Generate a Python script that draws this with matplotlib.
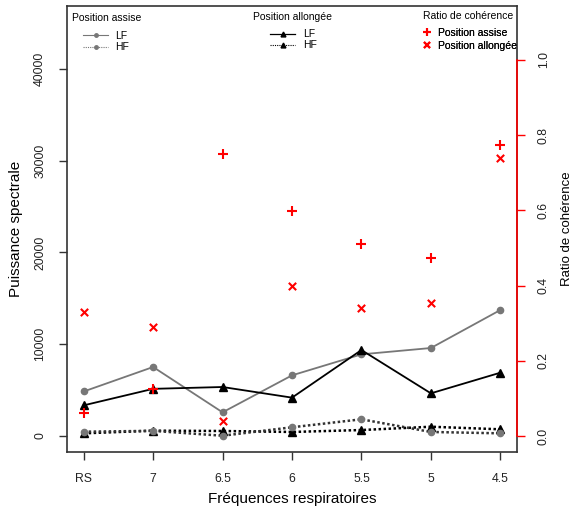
import matplotlib.pyplot as plt
from matplotlib.lines import Line2D
import numpy as np

plt.rcParams["font.family"] = ["Liberation Sans", "DejaVu Sans"]

freq_labels = ["RS", "7", "6.5", "6", "5.5", "5", "4.5"]
lf_assise = [4850, 7520, 2580, 6610, 8900, 9590, 13730]
hf_assise = [470, 560, 30, 950, 1820, 440, 290]
lf_allongee = [3340, 5140, 5340, 4180, 9370, 4650, 6900]
hf_allongee = [290, 580, 545, 440, 650, 1010, 730]
coh_assise = [0.060, 0.126, 0.749, 0.599, 0.511, 0.473, 0.774]
coh_allongee = [0.330, 0.291, 0.041, 0.400, 0.340, 0.354, 0.740]

x = np.arange(1, len(freq_labels) + 1)
GRAY = "#777777"
RED = "#ff0000"

fig = plt.figure(figsize=(5.75, 5.16), dpi=100)
ax = fig.add_axes([67/575, 1 - 452/516, 450/575, 446/516])

# spectral power
ax.plot(x, lf_assise, color=GRAY, lw=1.3, marker="o", ms=4.5, mfc=GRAY, mec=GRAY, zorder=3)
ax.plot(x, lf_allongee, color="black", lw=1.3, marker="^", ms=5.5, zorder=3)
ax.plot(x, hf_allongee, color="black", lw=1.8, ls=(0, (1, 1)), marker="^", ms=5.5, zorder=3)
ax.plot(x, hf_assise, color="#333333", lw=1.8, ls=(0, (1, 1)), marker="o", ms=4.5,
        mfc=GRAY, mec=GRAY, zorder=3)

ax.set_xlim(0.76, 7.24)
ax.set_ylim(-1744, 46866)
ax.set_xticks(x)
ax.set_xticklabels(freq_labels)
ax.set_yticks([0, 10000, 20000, 30000, 40000])
ax.set_yticklabels(["0", "10000", "20000", "30000", "40000"], rotation=90, va="center")
ax.tick_params(axis="both", direction="out", length=6, width=1, labelsize=8.8, pad=9,
               color="#333333", labelcolor="#222222")
for s in ax.spines.values():
    s.set_color("#333333")
    s.set_linewidth(1.2)
ax.set_xlabel("Fréquences respiratoires", fontsize=11, labelpad=5)
ax.set_ylabel("Puissance spectrale", fontsize=11, labelpad=8)

# coherence ratio
ax2 = ax.twinx()
ax2.scatter(x, coh_assise, marker="+", s=55, color=RED, linewidths=1.5, zorder=4)
ax2.scatter(x, coh_allongee, marker="x", s=28, color=RED, linewidths=1.5, zorder=4)
ax2.set_ylim(-0.0426, 1.1436)
ax2.set_yticks([0.0, 0.2, 0.4, 0.6, 0.8, 1.0])
ax2.set_yticklabels(["0.0", "0.2", "0.4", "0.6", "0.8", "1.0"], rotation=90, va="center")
ax2.tick_params(axis="y", direction="out", length=6, width=1, labelsize=8.8, pad=9,
                color=RED, labelcolor="#222222")
for k in ["left", "top", "bottom"]:
    ax2.spines[k].set_visible(False)
ax2.spines["right"].set_color(RED)
ax2.spines["right"].set_linewidth(1.2)
ax2.spines["right"].set_bounds(0, 1)
ax2.set_ylabel("Ratio de cohérence", fontsize=9.5, labelpad=8)

# legends
fs = 7.5
ax.text(0.011, 0.973, "Position assise", transform=ax.transAxes, fontsize=fs, va="center")
h1 = [Line2D([], [], color=GRAY, lw=0.8, marker="o", ms=2.5),
      Line2D([], [], color=GRAY, lw=0.8, ls=(0, (1, 1)), marker="o", ms=2.5)]
leg1 = ax.legend(h1, ["LF", "HF"], loc="upper left", bbox_to_anchor=(0.036, 0.945),
                 frameon=False, fontsize=fs, handlelength=2.4, handletextpad=0.7,
                 labelspacing=0.18, borderpad=0, borderaxespad=0)
ax.add_artist(leg1)

ax.text(0.413, 0.975, "Position allongée", transform=ax.transAxes, fontsize=fs, va="center")
h2 = [Line2D([], [], color="black", lw=0.9, marker="^", ms=3.5),
      Line2D([], [], color="black", lw=0.8, ls=(0, (1, 1)), marker="^", ms=3.5)]
leg2 = ax.legend(h2, ["LF", "HF"], loc="upper left", bbox_to_anchor=(0.452, 0.948),
                 frameon=False, fontsize=fs, handlelength=2.4, handletextpad=0.7,
                 labelspacing=0.1, borderpad=0, borderaxespad=0)
ax.add_artist(leg2)

ax.text(0.791, 0.977, "Ratio de cohérence", transform=ax.transAxes, fontsize=fs, va="center")
h3 = [Line2D([], [], color=RED, ls="none", marker="+", ms=6, mew=1.5),
      Line2D([], [], color=RED, ls="none", marker="x", ms=4.5, mew=1.5)]
leg3 = ax.legend(h3, ["Position assise", "Position allongée"], loc="upper left",
                 bbox_to_anchor=(0.785, 0.951), frameon=False, fontsize=fs,
                 handlelength=1.2, handletextpad=0.5, labelspacing=0.3,
                 borderpad=0, borderaxespad=0)
ax.add_artist(leg3)

fig.savefig("out.png", dpi=100)
